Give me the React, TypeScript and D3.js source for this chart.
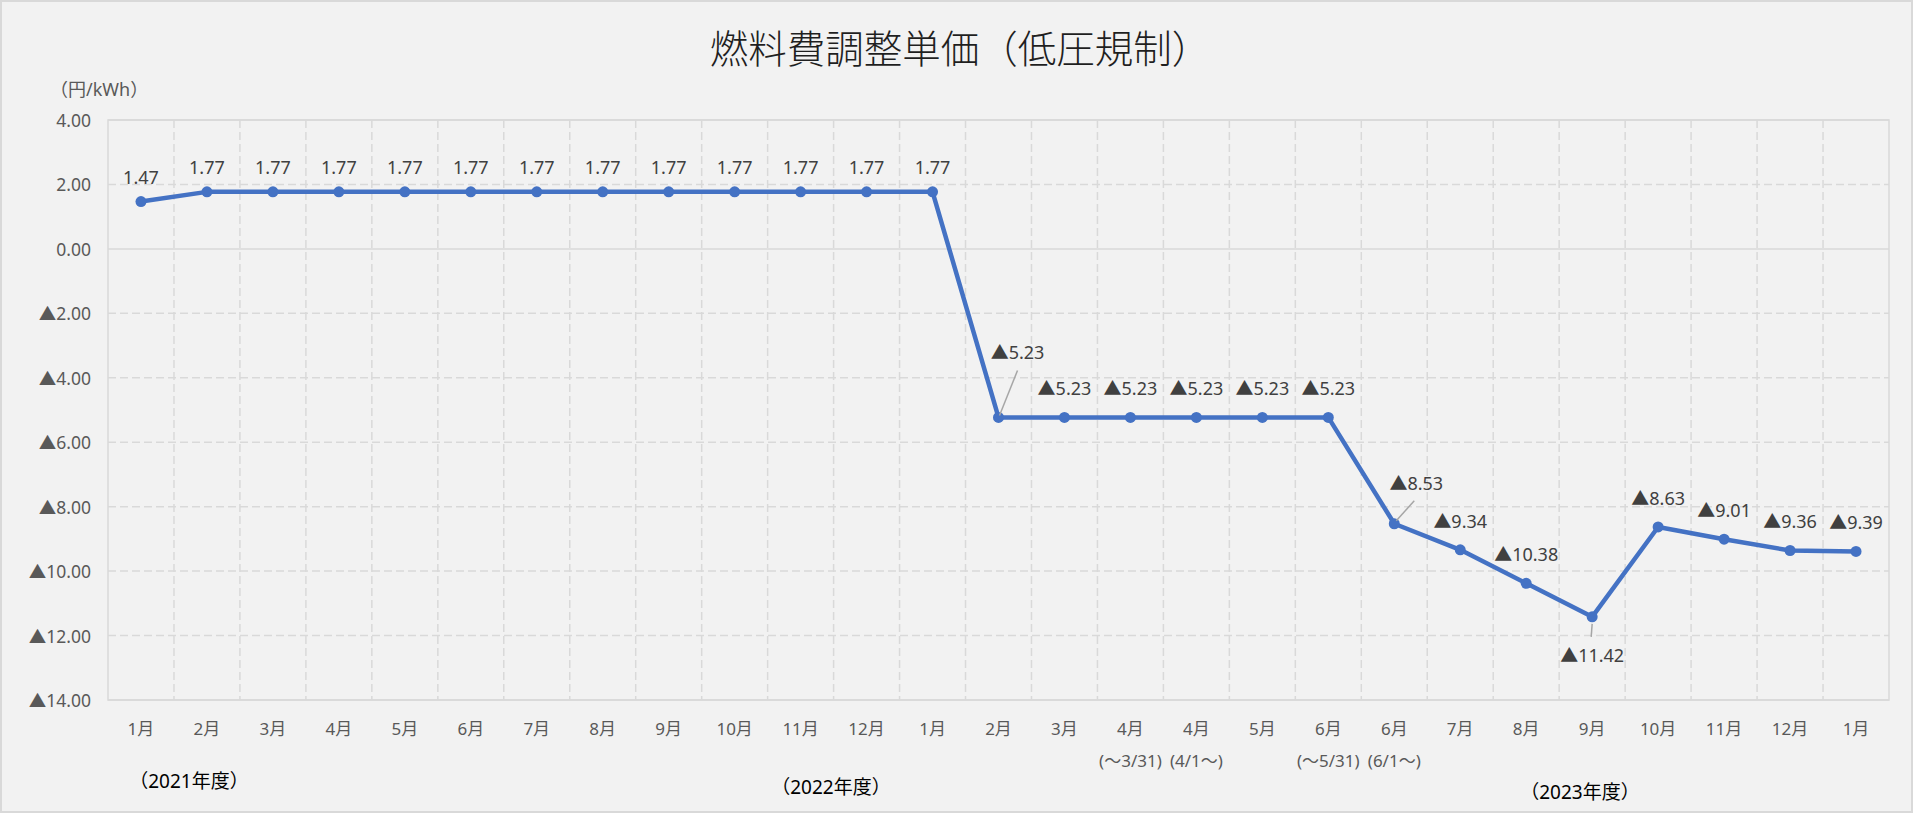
import React, { useEffect } from "react";
import * as d3 from "d3";

const categories = [
  "1月", "2月", "3月", "4月", "5月", "6月", "7月", "8月", "9月", "10月", "11月", "12月",
  "1月", "2月", "3月", "4月", "4月", "5月", "6月", "6月", "7月", "8月", "9月", "10月", "11月", "12月", "1月",
];
const subLabels = [
  "", "", "", "", "", "", "", "", "", "", "", "",
  "", "", "", "(～3/31)", "(4/1～)", "", "(～5/31)", "(6/1～)", "", "", "", "", "", "", "",
];
const values = [
  1.47, 1.77, 1.77, 1.77, 1.77, 1.77, 1.77, 1.77, 1.77, 1.77, 1.77, 1.77, 1.77,
  -5.23, -5.23, -5.23, -5.23, -5.23, -5.23,
  -8.53, -9.34, -10.38, -11.42, -8.63, -9.01, -9.36, -9.39,
];
const yTicks = [4, 2, 0, -2, -4, -6, -8, -10, -12, -14];
const yearLabels = ["（2021年度）", "（2022年度）", "（2023年度）"];
const title = "燃料費調整単価（低圧規制）";
const unitLabel = "（円/kWh）";

// label placement overrides (style): index -> label centre offset from point, with leader line
const leaderLabels: Record<number, { dx: number; dy: number; l: [number, number, number, number] }> = {
  13: { dx: 19, dy: -65, l: [1, -2, 19, -47] },
  19: { dx: 22, dy: -41, l: [2, -3, 20, -23] },
  22: { dx: 0, dy: 38, l: [0, 7, -1, 20] },
};
const yearPos: [number, number][] = [[189, 781], [831, 787], [1580, 792]];

const W = 1913;
const H = 813;
const fmt = (v: number) => (v < 0 ? "▲" + Math.abs(v).toFixed(2) : v.toFixed(2));
const FONT = "'Noto Sans', 'Noto Sans CJK JP', sans-serif";

export default function App() {
  useEffect(() => {
    document.body.style.margin = "0";
  }, []);
  const x = d3.scaleBand<number>().domain(d3.range(categories.length)).range([108, 1889]).padding(0);
  const y = d3.scaleLinear().domain([-14, 4]).range([700, 120]);
  const cx = (i: number) => (x(i) as number) + x.bandwidth() / 2;
  const line = d3
    .line<number>()
    .x((_, i) => cx(i))
    .y((d) => y(d));
  const grid = "#D9D9D9";
  return (
    <svg width={W} height={H} style={{ position: "absolute", left: 0, top: 0, fontFamily: FONT }}>
      <rect x={0} y={0} width={W} height={H} fill="#F2F2F2" />
      <rect x={1} y={1} width={W - 2} height={H - 2} fill="none" stroke={grid} strokeWidth={2} />
      <text x={960} y={46} textAnchor="middle" dominantBaseline="central" fontSize={38.5} fontWeight={300} fill="#1F1F1F" fontFamily="'Noto Sans CJK JP', sans-serif">
        {title}
      </text>
      <text x={50} y={89} dominantBaseline="central" fontSize={18} fill="#595959">
        {unitLabel}
      </text>
      {/* horizontal gridlines */}
      {yTicks.map((t) => (
        <line
          key={"h" + t}
          x1={108}
          x2={1889}
          y1={y(t)}
          y2={y(t)}
          stroke={grid}
          strokeWidth={1.5}
          strokeDasharray={t === 0 || t === 4 || t === -14 ? undefined : "8,4"}
        />
      ))}
      {/* vertical gridlines */}
      {d3.range(1, categories.length).map((i) => (
        <line key={"v" + i} x1={x(i)} x2={x(i)} y1={120} y2={700} stroke={grid} strokeWidth={1.5} strokeDasharray="8,4" />
      ))}
      <rect x={108} y={120} width={1781} height={580} fill="none" stroke={grid} strokeWidth={1.5} />
      {/* y tick labels */}
      {yTicks.map((t) => (
        <text key={"yt" + t} x={91} y={y(t)} textAnchor="end" dominantBaseline="central" fontSize={17.5} fill="#595959">
          {fmt(t)}
        </text>
      ))}
      {/* category labels */}
      {categories.map((c, i) => (
        <g key={"c" + i}>
          <text x={cx(i)} y={728} textAnchor="middle" dominantBaseline="central" fontSize={17} fill="#595959">
            {c}
          </text>
          {subLabels[i] && (
            <text x={cx(i)} y={760} textAnchor="middle" dominantBaseline="central" fontSize={17} fill="#595959">
              {subLabels[i]}
            </text>
          )}
        </g>
      ))}
      {yearLabels.map((t, i) => (
        <text key={"yl" + i} x={yearPos[i][0]} y={yearPos[i][1]} textAnchor="middle" dominantBaseline="central" fontSize={19} fill="#000">
          {t}
        </text>
      ))}
      {/* series line */}
      <path d={line(values) || ""} fill="none" stroke="#4472C4" strokeWidth={4.5} strokeLinejoin="round" />
      {values.map((v, i) => (
        <circle key={"p" + i} cx={cx(i)} cy={y(v)} r={5.5} fill="#4472C4" />
      ))}
      {/* data labels */}
      {values.map((v, i) => {
        const px = cx(i);
        const py = y(v);
        const ll = leaderLabels[i];
        if (ll) {
          return (
            <g key={"dl" + i}>
              <line x1={px + ll.l[0]} y1={py + ll.l[1]} x2={px + ll.l[2]} y2={py + ll.l[3]} stroke="#A6A6A6" strokeWidth={1.5} />
              <text x={px + ll.dx} y={py + ll.dy} textAnchor="middle" dominantBaseline="central" fontSize={18} fill="#404040">
                {fmt(v)}
              </text>
            </g>
          );
        }
        return (
          <text key={"dl" + i} x={px} y={py - (v < 0 ? 29 : 25)} textAnchor="middle" dominantBaseline="central" fontSize={18} fill="#404040">
            {fmt(v)}
          </text>
        );
      })}
    </svg>
  );
}
